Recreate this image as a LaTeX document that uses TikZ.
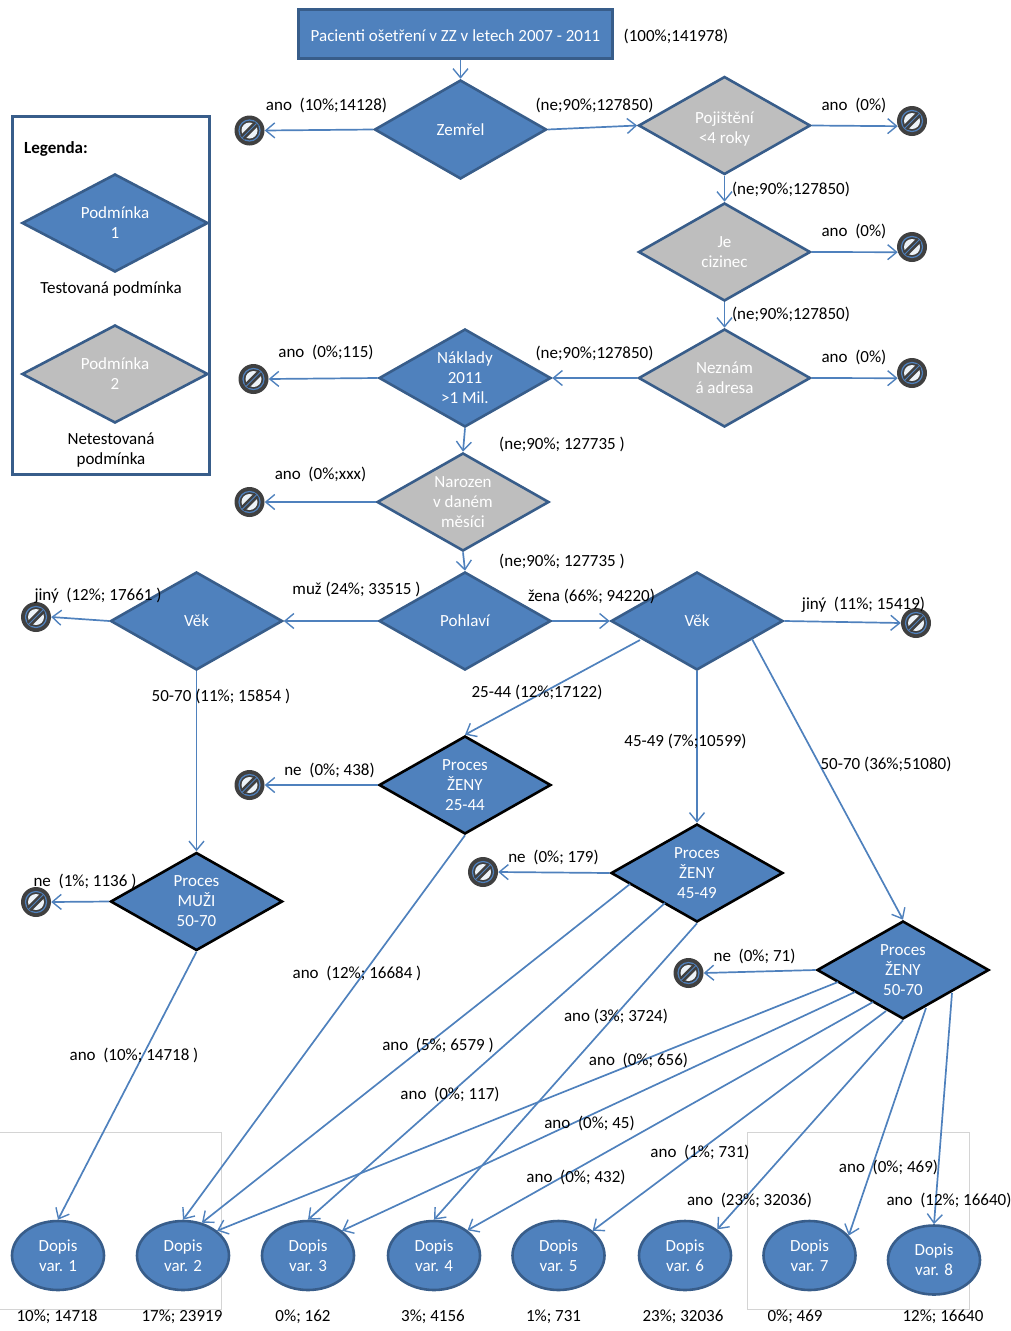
\documentclass[tikz,border=0pt]{standalone}
\usepackage{fontspec}
\setmainfont{Carlito}
\usetikzlibrary{shapes.geometric,arrows.meta,calc}
\definecolor{bfill}{HTML}{4F81BD}
\definecolor{bline}{HTML}{385D8A}
\definecolor{gfill}{HTML}{BEBEBE}
\definecolor{nodark}{HTML}{404040}
\definecolor{frameg}{HTML}{D4D4D4}
\tikzset{
  x=1pt,y=-1pt,
  font=\fontsize{17}{20}\selectfont,
  dia/.style={shape=diamond,shape aspect=1.75,draw=bline,line width=2.6pt,inner sep=0pt,minimum width=172pt,minimum height=98pt,fill=bfill,text=white,align=center},
  grey/.style={dia,fill=gfill},
  proc/.style={dia,draw=black},
  dopis/.style={shape=ellipse,draw=bline,line width=2.6pt,fill=bfill,text=white,align=center,minimum width=92pt,minimum height=69pt,inner sep=0pt},
  lab/.style={text=black,inner sep=0pt,align=center,yshift=-1pt},
  arr/.style={draw=bfill,line width=1.7pt,-{Straight Barb[length=9pt,width=15pt,line width=1.4pt]}},
  ban/.style={shape=circle,minimum size=30pt,inner sep=0pt,fill=nodark,path picture={
    \fill[white!90!bfill] (path picture bounding box.center) circle (8pt);
    \draw[bfill,line width=1.2pt] (path picture bounding box.center) circle (10.5pt);
    \draw[nodark,line width=6pt] ($(path picture bounding box.center)+(-7pt,-7pt)$) -- ($(path picture bounding box.center)+(7pt,7pt)$);
    \draw[bfill,line width=1pt] ($(path picture bounding box.center)+(-7pt,-7pt)$) -- ($(path picture bounding box.center)+(7pt,7pt)$);
  }},
}
\begin{document}
\begin{tikzpicture}
\useasboundingbox (0,0) rectangle (1011,1331);
% thin frames
\draw[frameg,line width=0.8pt] (0,1132) -- (221,1132) -- (221,1309) -- (0,1309);
\draw[frameg,line width=0.8pt] (747,1132) rectangle (969,1309);
% legend
\node[draw=bline,line width=2.6pt,fill=white,minimum width=197pt,minimum height=358pt,inner sep=0pt] (legend) at (111,295.5) {};
\node[lab,font=\fontsize{17}{20}\selectfont\bfseries] (legt) at (56,148) {Legenda:};
\node[dia,minimum width=186pt] (lp1) at (115,223) {Podmínka\\1};
\node[grey,minimum width=186pt] (lp2) at (115,374) {Podmínka\\2};
\node[lab] (lt1) at (111,288) {Testovaná podmínka};
\node[lab] (lt2) at (111,449.5) {Netestovaná\\podmínka};
% main nodes
\node[draw=bline,line width=2.6pt,fill=bfill,text=white,minimum width=314pt,minimum height=49pt,inner sep=0pt] (start) at (455.5,34) {\rule{0pt}{16pt}Pacienti ošetření v ZZ v letech 2007 - 2011};
\node[dia,minimum height=99pt] (zem) at (460.5,129.5) {Zemřel};
\node[grey] (poj) at (724.5,125.5) {\rule{0pt}{19pt}Pojištění\\<4 roky};
\node[grey] (ciz) at (724.5,252) {Je\\cizinec};
\node[grey] (nez) at (724.5,378) {Neznám\\á adresa};
\node[dia] (nak) at (465,378) {Náklady\\2011\\>1 Mil.};
\node[grey] (nar) at (463,502) {Narozen\\v daném\\měsíci};
\node[dia] (poh) at (465,621) {Pohlaví};
\node[dia] (vekl) at (196.5,621) {Věk};
\node[dia] (vekr) at (697,621) {Věk};
\node[proc] (p25) at (465,785) {Proces\\ŽENY\\25-44};
\node[proc] (pm) at (196.5,901.5) {Proces\\MUŽI\\50-70};
\node[proc] (p45) at (697,873) {Proces\\ŽENY\\45-49};
\node[proc] (p50) at (903,970) {Proces\\ŽENY\\50-70};
% ban symbols
\node[ban] (n1) at (249.5,130.5) {};
\node[ban] (n2) at (912,121) {};
\node[ban] (n3) at (912,247) {};
\node[ban] (n4) at (912,373) {};
\node[ban] (n5) at (253.5,379) {};
\node[ban] (n6) at (249.5,502) {};
\node[ban] (n7) at (36,617) {};
\node[ban] (n8) at (916,623) {};
\node[ban] (n9) at (249.5,785) {};
\node[ban] (n10) at (36,902) {};
\node[ban] (n11) at (483,872) {};
\node[ban] (n12) at (688.5,973) {};
% letters
\node[dopis] (d1) at (58,1255.5) {Dopis\\var. 1};
\node[dopis] (d2) at (183,1255.5) {Dopis\\var. 2};
\node[dopis] (d3) at (308,1255.5) {Dopis\\var. 3};
\node[dopis] (d4) at (434,1255.5) {Dopis\\var. 4};
\node[dopis] (d5) at (558.5,1255.5) {Dopis\\var. 5};
\node[dopis] (d6) at (685,1255.5) {Dopis\\var. 6};
\node[dopis] (d7) at (809.5,1255.5) {Dopis\\var. 7};
\node[dopis] (d8) at (934,1260) {Dopis\\var. 8};
% connector start points on the diamond borders
\coordinate (sr25) at (640,640);
\coordinate (sr50) at (752,639);
\coordinate (s45a) at (630,884);
\coordinate (s45b) at (665,903);
\coordinate (s50a) at (838,982);
\coordinate (s50b) at (855,992);
\coordinate (s50c) at (873,1002);
\coordinate (s50d) at (886,1011);
\coordinate (s50e) at (926,1008);
\coordinate (s50f) at (952,993);
% connectors
\draw[arr] (start.south -| zem) -- (zem.north);
\draw[arr] (zem.west) -- (n1.east);
\draw[arr] (zem.east) -- (poj.west);
\draw[arr] (poj.east) -- (n2.200);
\draw[arr] (poj.south) -- (ciz.north);
\draw[arr] (ciz.east) -- (n3.200);
\draw[arr] (ciz.south) -- (nez.north);
\draw[arr] (nez.east) -- (n4.200);
\draw[arr] (nez.west) -- (nak.east);
\draw[arr] (nak.west) -- (n5.east);
\draw[arr] (nak.south) -- (nar.north);
\draw[arr] (nar.west) -- (n6.east);
\draw[arr] (nar.south) -- (poh.north);
\draw[arr] (poh.west) -- (vekl.east);
\draw[arr] (vekl.west) -- (n7.east);
\draw[arr] (poh.east) -- (vekr.west);
\draw[arr] (vekr.east) -- (n8.west);
\draw[arr] (sr25) -- (p25.north);
\draw[arr] (vekr.south) -- (p45.north);
\draw[arr] (sr50) -- (p50.north);
\draw[arr] (vekl.south) -- (pm.north);
\draw[arr] (p25.west) -- (n9.east);
\draw[arr] (pm.west) -- (n10.east);
\draw[arr] (p45.west) -- (n11.east);
\draw[arr] (p50.west) -- (n12.east);
\draw[arr] (pm.south) -- (d1.north);
\draw[arr] (p25.south) -- (d2.north);
\draw[arr] (s45a) -- (d2.60);
\draw[arr] (s45b) -- (d3.north);
\draw[arr] (p45.south) -- (d4.north);
\draw[arr] (s50a) -- (d2.36);
\draw[arr] (s50b) -- (d3.36);
\draw[arr] (s50c) -- (d4.37);
\draw[arr] (s50d) -- (d5.36);
\draw[arr] (p50.south) -- (d6.39);
\draw[arr] (s50e) -- (d7.27);
\draw[arr] (s50f) -- (d8.north);
% labels
\node[lab] (l1) at (676,35.5) {(100\%;141978)};
\node[lab] (l2) at (326.5,104) {ano\ \ (10\%;14128)};
\node[lab] (l3) at (594.5,104) {(ne;90\%;127850)};
\node[lab] (l4) at (854,104) {ano\ \ (0\%)};
\node[lab] (l5) at (791,188) {(ne;90\%;127850)};
\node[lab] (l6) at (854,230) {ano\ \ (0\%)};
\node[lab] (l7) at (791,313) {(ne;90\%;127850)};
\node[lab] (l8) at (854,356) {ano\ \ (0\%)};
\node[lab] (l9) at (594.5,352) {(ne;90\%;127850)};
\node[lab] (l10) at (326,351) {ano\ \ (0\%;115)};
\node[lab] (l11) at (562,443) {(ne;90\%; 127735 )};
\node[lab] (l12) at (320.5,473) {ano\ \ (0\%;xxx)};
\node[lab] (l13) at (562,560) {(ne;90\%; 127735 )};
\node[lab] (l14) at (356.5,588) {muž (24\%; 33515 )};
\node[lab] (l15) at (591.5,595) {žena (66\%; 94220)};
\node[lab] (l16) at (98,595) {jiný\ \ (12\%; 17661 )};
\node[lab] (l17) at (863.5,604) {jiný\ \ (11\%; 15419)};
\node[lab] (l18) at (221,695) {50-70 (11\%; 15854 )};
\node[lab] (l19) at (537,691.5) {25-44 (12\%;17122)};
\node[lab] (l20) at (685.5,740) {45-49 (7\%;10599)};
\node[lab] (l21) at (886,763) {50-70 (36\%;51080)};
\node[lab] (l22) at (329.5,769) {ne\ \ (0\%; 438)};
\node[lab] (l23) at (85,880) {ne\ \ (1\%; 1136 )};
\node[lab] (l24) at (553.5,856) {ne\ \ (0\%; 179)};
\node[lab] (l25) at (754.5,955) {ne\ \ (0\%; 71)};
\node[lab] (l26) at (357,972) {ano\ \ (12\%; 16684 )};
\node[lab] (l27) at (134,1054) {ano\ \ (10\%; 14718 )};
\node[lab] (l28) at (438,1044) {ano\ \ (5\%; 6579 )};
\node[lab] (l29) at (616,1015.5) {ano (3\%; 3724)};
\node[lab] (l30) at (638.5,1059.5) {ano\ \ (0\%; 656)};
\node[lab] (l31) at (450,1093) {ano\ \ (0\%; 117)};
\node[lab] (l32) at (589.5,1122.5) {ano\ \ (0\%; 45)};
\node[lab] (l33) at (576,1176) {ano\ \ (0\%; 432)};
\node[lab] (l34) at (700,1151) {ano\ \ (1\%; 731)};
\node[lab] (l35) at (749.5,1199.5) {ano\ \ (23\%; 32036)};
\node[lab] (l36) at (888.5,1166) {ano\ \ (0\%; 469)};
\node[lab] (l37) at (949,1199.5) {ano\ \ (12\%; 16640)};
\node[lab] (b1) at (57,1316) {10\%; 14718};
\node[lab] (b2) at (182,1316) {17\%; 23919};
\node[lab] (b3) at (303,1316) {0\%; 162};
\node[lab] (b4) at (433,1316) {3\%; 4156};
\node[lab] (b5) at (553.5,1316) {1\%; 731};
\node[lab] (b6) at (683,1316) {23\%; 32036};
\node[lab] (b7) at (795,1316) {0\%; 469};
\node[lab] (b8) at (943,1316) {12\%; 16640};
\end{tikzpicture}
\end{document}
